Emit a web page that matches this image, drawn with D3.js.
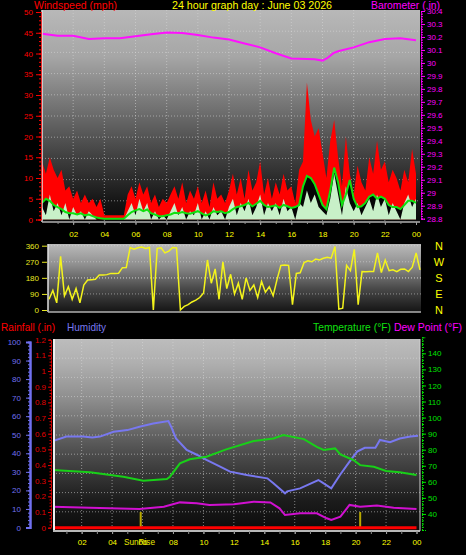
<!DOCTYPE html>
<html><head><meta charset="utf-8">
<script src="https://cdn.jsdelivr.net/npm/d3@7"></script>
<style>body{margin:0;background:#000}svg{display:block;font-family:"Liberation Sans",Arial,sans-serif}</style>
</head><body><svg id="c" width="466" height="555"></svg>
<script>
// ---------- DATA ----------
const hourTicks = [2,4,6,8,10,12,14,16,18,20,22,24];
const hourLabels = ["02","04","06","08","10","12","14","16","18","20","22","00"];
const windStepHours = 0.25;
const windGust = [14,11,15,12, 10,12,7,8, 5,7,4,6, 4,5,3,5, 1,1,1,1, 1,1,6,8,
  5,9,6,8, 4,6,3,5, 4,6,8,5, 9,4,7,5, 8,4,7,3, 9,5,6,4,
  7,11,6,10, 5,12,7,9, 14,6,10,5, 9,6,11,7, 8,4,12,14, 33,24,20,22,
  16,10,19,24, 15,8,20,11, 6,13,9,7, 15,11,19,12, 14,9,12,10, 7,12,9,17, 11];
const windAvg = [4,5,4.5,3.5, 3,2.5,1.8,1.5, 1.5,1.2,1.5,1, 1.2,0.8,0.5,0.3, 0.2,0.2,0.2,0.2, 0.2,0.2,1,1.8,
  2.2,2.5,2,2.4, 1.5,1.2,0.8,0.8, 1,1.2,1.6,1.5, 1.8,1.5,1.4,1.7, 2,1.5,1,1.3, 2,1.8,2,1.5,
  1.8,2.5,3,3.2, 3.5,4,3.2,3.8, 4.5,3.5,3,3.2, 3.4,2.8,3.5,3.2, 2.8,3,3.5,8, 10.5,10,8.5,6,
  3.5,2.5,7,12.5, 9,3.5,6,9.5, 5,3,3.2,4, 5.5,6,5,5.5, 5,3.5,3,3, 2.5,3.5,4.5,4.5, 4];
const windSpeed = [3,1,6,2, 4,1,4,0, 3,1,2,0, 2,1,0,0, 0,0,0,0, 0,0,2,4,
  1,5,2,4, 0,2,0,1, 0,2,4,1, 3,0,2,1, 4,0,2,0, 3,1,2,0,
  3,5,1,4, 2,5,1,3, 6,1,4,2, 4,1,5,2, 3,0,4,3, 7,4,6,3,
  2,1,5,11, 6,1,8,4, 2,4,1,3, 5,2,6,3, 5,1,4,2, 0,4,6,3, 5];
const baroHours = [0,1,2,3,4,5,6,7,8,9,10,11,12,13,14,15,16,17,17.5,18,18.3,18.7,19,20,21,22,23,24];
const baroValues = [30.225,30.21,30.21,30.185,30.19,30.19,30.205,30.22,30.235,30.23,30.215,30.195,30.18,30.15,30.12,30.075,30.035,30.03,30.028,30.018,30.036,30.075,30.09,30.12,30.16,30.185,30.19,30.175];
const windDir = [60,110,40,300, 80,130,60,120, 40,140,168,170, 172,196,196,198, 205,205,206,237, 238,350,340,348,
  352,345,350,0, 345,348,320,330, 350,348,0,20, 30,45,55,70, 95,280,150,230, 60,270,120,200,
  90,150,60,180, 110,140,70,160, 100,130,80,170, 250,252,250,30, 205,208,265,275, 270,285,280,290,
  295,290,355,5, 10,250,220,340, 30,215,214,215, 215,320,210,280, 220,225,215,228, 230,215,240,320, 225];
const humHours = [0.1,1,2.1,2.7,3.2,4.1,5,5.8,6.7,7.7,7.9,8.2,8.9,9.6,10.2,11.1,11.75,12.85,14.2,14.6,15.36,15.5,16.35,17.55,17.8,18.4,18.97,19.6,20.1,20.6,21.3,21.6,22.26,22.9,23.6,24.1];
const humValues = [46.6,49,49,48.5,49,51.6,52.5,54.3,56.1,57.4,54,48,41.8,39.1,36.4,32.8,30.1,28.3,26.5,23.8,18.4,19.5,21.1,25.6,24.3,21.1,28.3,35.5,40.9,43,43,47.2,46,48,49,49.5];
const tempHours = [0.1,2.55,4.74,6.05,7.6,7.8,8.46,9.1,10.2,11.5,13.3,14.6,15.25,16.6,17.45,17.9,18.65,19.0,19.85,20.3,21.2,22.0,22.9,24.0];
const tempValues = [67.3,65.9,63.2,60.7,61.7,63.2,71.5,74,75.6,80.2,85.4,87,89.1,86.6,81.8,79.8,80.8,77.1,73.6,70.4,69.4,66.7,65.9,64.2];
const dewHours = [0.1,2.55,5.8,7.4,8.46,9.56,10.4,12,13.3,14.4,15.0,15.36,16.35,17.45,18.1,18.4,19,19.6,20.3,21.4,22.5,24];
const dewValues = [44.5,43.9,43.1,44.5,47.2,46.6,45.6,46,47.6,47.2,43.5,39.3,40.4,40.4,37.3,36.2,38.3,45.6,44.5,45.2,43.9,43.1];
const rainHours = [0,24];
const rainValues = [0,0];
const sunHours = [5.88,20.3];
const compass = ["N","W","S","E","N"];
const dirTicks = [0,90,180,270,360];

// ---------- SETUP ----------
const svg = d3.select("#c");
const defs = svg.append("defs");
function grad(id, stops){
  const g = defs.append("linearGradient").attr("id",id).attr("x1",0).attr("y1",0).attr("x2",0).attr("y2",1);
  stops.forEach(s=>g.append("stop").attr("offset",s[0]).attr("stop-color",s[1]));
}
grad("gTop",[[0,"#b8b8b8"],[0.22,"#a6a6a6"],[0.48,"#6e6e6e"],[0.72,"#3a3a3a"],[0.9,"#161616"],[1,"#0a0a0a"]]);
grad("gMid",[[0,"#bababa"],[0.3,"#909090"],[0.65,"#4a4a4a"],[1,"#141414"]]);
grad("gBot",[[0,"#bcbcbc"],[0.12,"#b0b0b0"],[0.32,"#8c8c8c"],[0.58,"#505050"],[0.84,"#1c1c1c"],[1,"#0a0a0a"]]);
function clip(id,x,y,w,h){defs.append("clipPath").attr("id",id).append("rect").attr("x",x).attr("y",y).attr("width",w).attr("height",h);}

function panel(x0,y0,x1,y1,fill,clipId){
  svg.append("rect").attr("x",x0).attr("y",y0).attr("width",x1-x0).attr("height",y1-y0).attr("fill",`url(#${fill})`);
  clip(clipId,x0,y0,x1-x0,y1-y0);
}
function hgrid(x0,x1,ys){
  svg.append("g").selectAll("line").data(ys).join("line")
    .attr("x1",x0).attr("x2",x1).attr("y1",d=>d).attr("y2",d=>d)
    .attr("stroke","#d8d8d8").attr("stroke-opacity",0.55).attr("stroke-dasharray","1,2");
}
function vgrid(y0,y1,xs){
  svg.append("g").selectAll("line").data(xs).join("line")
    .attr("y1",y0).attr("y2",y1).attr("x1",d=>d).attr("x2",d=>d)
    .attr("stroke","#d8d8d8").attr("stroke-opacity",0.55).attr("stroke-dasharray","1,2");
}
function text(x,y,s,color,size,anchor,len){
  const t = svg.append("text").attr("x",x).attr("y",y).text(s).attr("fill",color)
    .attr("font-size",size).attr("text-anchor",anchor||"start");
  if(len) t.attr("textLength",len).attr("lengthAdjust","spacingAndGlyphs");
  return t;
}
function styleAxis(g,color,dash,width){
  g.select(".domain").attr("stroke",color).attr("stroke-dasharray",dash||null).attr("stroke-width",width||1);
  g.selectAll(".tick line").attr("stroke",color);
  g.selectAll(".tick text").attr("fill",color).attr("font-size",8).attr("font-family","Liberation Sans, Arial, sans-serif");
}

// ---------- TOP CHART ----------
const TX0=42, TX1=420, TY0=10, TY1=222;
const xTop = d3.scaleLinear([0,24],[42,416]);
const windY = d3.scaleLinear([0,50],[219.5,12]);
const baroY = d3.scaleLinear([28.8,30.4],[218.7,11]);
panel(TX0,TY0,TX1,TY1,"gTop","cTop");
hgrid(TX0,TX1,d3.range(1,10).map(k=>TY0+k*(TY1-TY0)/10));
vgrid(TY0,TY1,hourTicks.slice(0,-1).map(xTop));
const windTimes = windGust.map((_,i)=>i*windStepHours);
const gTop = svg.append("g").attr("clip-path","url(#cTop)");
gTop.append("path").datum(windGust)
  .attr("d",d3.area().x((d,i)=>xTop(windTimes[i])).y0(windY(0)).y1(d=>windY(d)))
  .attr("fill","#ff0000");
gTop.append("path").datum(windAvg)
  .attr("d",d3.area().x((d,i)=>xTop(windTimes[i])).y0(windY(0)).y1(d=>windY(d)))
  .attr("fill","#050505");
gTop.append("path").datum(windSpeed)
  .attr("d",d3.area().x((d,i)=>xTop(windTimes[i])).y0(windY(0)).y1(d=>windY(d)))
  .attr("fill","#c8f0c8");
gTop.append("path").datum(windAvg)
  .attr("d",d3.line().x((d,i)=>xTop(windTimes[i])).y(d=>windY(d)))
  .attr("fill","none").attr("stroke","#10e010").attr("stroke-width",2);
gTop.append("path").datum(baroValues)
  .attr("d",d3.line().x((d,i)=>xTop(baroHours[i])).y(d=>baroY(d)))
  .attr("fill","none").attr("stroke","#ff10ff").attr("stroke-width",2);
// borders
svg.append("line").attr("x1",TX0).attr("x2",TX0).attr("y1",TY0).attr("y2",TY1).attr("stroke","#e0e0e0").attr("stroke-width",1.5);
svg.append("line").attr("x1",TX0).attr("x2",TX1).attr("y1",TY1).attr("y2",TY1).attr("stroke","#b0b0b0").attr("stroke-width",1.5);
// axes
let a;
a = svg.append("g").attr("transform","translate(41,0)").call(d3.axisLeft(windY).tickValues(d3.range(0,51,1)).tickSize(2).tickFormat(""));
styleAxis(a,"#ff0000","1,1");
a = svg.append("g").attr("transform","translate(41,0)").call(d3.axisLeft(windY).tickValues(d3.range(0,51,5)).tickSize(5).tickPadding(3));
styleAxis(a,"#ff0000","1,1");
a = svg.append("g").attr("transform","translate(421,0)").call(d3.axisRight(baroY).tickValues(d3.range(0,81,1).map(i=>28.8+i*0.02)).tickSize(2).tickFormat(""));
styleAxis(a,"#ff00ff","1,1");
a = svg.append("g").attr("transform","translate(421,0)").call(d3.axisRight(baroY).tickValues(d3.range(0,17).map(i=>+(28.8+i*0.1).toFixed(1))).tickSize(4).tickPadding(2).tickFormat(d=>String(+d.toFixed(1))));
styleAxis(a,"#ff00ff","1,1");
a = svg.append("g").attr("transform",`translate(0,${TY1})`).call(d3.axisBottom(xTop).tickValues(d3.range(1,25)).tickSize(2).tickFormat(""));
styleAxis(a,"#909090"); a.select(".domain").remove();
a = svg.append("g").attr("transform",`translate(0,${TY1})`).call(d3.axisBottom(xTop).tickValues(hourTicks).tickSize(3).tickPadding(6.5).tickFormat((d,i)=>hourLabels[i]));
styleAxis(a,"#a0a0a0"); a.select(".domain").remove(); a.selectAll(".tick text").attr("fill","#ffff00");
text(34,8.5,"Windspeed (mph)","#ff0000",11,"start",83);
text(172,8.5,"24 hour graph day : June 03 2026","#ffff00",11,"start",160);
text(371,8.5,"Barometer (.in)","#ff00ff",11,"start",69);

// ---------- MIDDLE CHART ----------
const MX0=48, MX1=421, MY0=244, MY1=312;
const xMid = d3.scaleLinear([0,24],[49,420]);
const dirY = d3.scaleLinear([0,360],[310,245.7]);
panel(MX0,MY0,MX1,MY1,"gMid","cMid");
hgrid(MX0,MX1,[90,180,270,360].map(dirY).concat([MY0+34]));
svg.append("line").attr("x1",MX0).attr("x2",MX0).attr("y1",MY0).attr("y2",MY1).attr("stroke","#e0e0e0").attr("stroke-width",1.5);
svg.append("line").attr("x1",MX0).attr("x2",MX1).attr("y1",MY1).attr("y2",MY1).attr("stroke","#b0b0b0").attr("stroke-width",1.5);
svg.append("g").attr("clip-path","url(#cMid)").append("path").datum(windDir)
  .attr("d",d3.line().x((d,i)=>xMid(windTimes[i])).y(d=>dirY(d)))
  .attr("fill","none").attr("stroke","#f4f41c").attr("stroke-width",1.5);
a = svg.append("g").attr("transform","translate(47,0)").call(d3.axisLeft(dirY).tickValues(dirTicks).tickSize(5).tickPadding(3));
styleAxis(a,"#e8e820"); a.select(".domain").remove();
compass.forEach((c,i)=>text(439,dirY(360-i*90)+4,c,"#ffff00",11,"middle"));

// ---------- BOTTOM CHART ----------
const BX0=53, BX1=420, BY0=339, BY1=531;
const xBot = d3.scaleLinear([0,24],[51.2,416.5]);
const humY = d3.scaleLinear([0,100],[527.5,342]);
const rainY = d3.scaleLinear([0,1.2],[527.7,339.7]);
const tempY = d3.scaleLinear([30,150],[530,337.3]);
panel(BX0,BY0,BX1,BY1,"gBot","cBot");
hgrid(BX0,BX1,d3.range(1,10).map(k=>BY0+k*(BY1-BY0)/10));
vgrid(BY0,BY1,hourTicks.slice(0,-1).map(xBot));
const gBot = svg.append("g").attr("clip-path","url(#cBot)");
function series(hours,vals,y,color,w){
  gBot.append("path").datum(vals).attr("d",d3.line().x((d,i)=>xBot(hours[i])).y(d=>y(d)))
    .attr("fill","none").attr("stroke",color).attr("stroke-width",w);
}
series(humHours,humValues,humY,"#7878f0",2);
series(tempHours,tempValues,tempY,"#18d018",2);
series(dewHours,dewValues,tempY,"#d010d0",2);
gBot.selectAll(".sun").data(sunHours).join("line").attr("class","sun")
  .attr("x1",d=>xBot(d)).attr("x2",d=>xBot(d)).attr("y1",512).attr("y2",528)
  .attr("stroke","#b8a800").attr("stroke-width",2);
series(rainHours,rainValues,rainY,"#ff0000",3);
svg.append("line").attr("x1",BX0+1).attr("x2",BX0+1).attr("y1",BY0).attr("y2",BY1).attr("stroke","#f0f0f0").attr("stroke-width",2);
svg.append("line").attr("x1",BX0).attr("x2",BX1).attr("y1",BY1).attr("y2",BY1).attr("stroke","#b8b8b8").attr("stroke-width",2);
svg.append("line").attr("x1",BX1).attr("x2",BX1).attr("y1",BY0).attr("y2",BY1).attr("stroke","#d0d0d0").attr("stroke-width",1);
// axes
a = svg.append("g").attr("transform","translate(30,0)").call(d3.axisLeft(humY).tickValues(d3.range(0,101,2)).tickSize(2).tickFormat(""));
styleAxis(a,"#7070f0",null,2);
a = svg.append("g").attr("transform","translate(30,0)").call(d3.axisLeft(humY).tickValues(d3.range(0,101,10)).tickSize(4).tickPadding(5));
styleAxis(a,"#7070f0",null,2);
a = svg.append("g").attr("transform","translate(51,0)").call(d3.axisLeft(rainY).tickValues(d3.range(0,61).map(i=>i*0.02)).tickSize(1.5).tickFormat(""));
styleAxis(a,"#e00000","2,2");
a = svg.append("g").attr("transform","translate(51,0)").call(d3.axisLeft(rainY).tickValues(d3.range(0,13).map(i=>+(i*0.1).toFixed(1))).tickSize(3).tickPadding(2).tickFormat(d=>String(+d.toFixed(1))));
styleAxis(a,"#e00000","2,2");
a = svg.append("g").attr("transform","translate(422,0)").call(d3.axisRight(tempY).tickValues(d3.range(30,151,2)).tickSize(2).tickFormat(""));
styleAxis(a,"#00e000","1,1");
a = svg.append("g").attr("transform","translate(422,0)").call(d3.axisRight(tempY).tickValues(d3.range(40,141,10)).tickSize(4).tickPadding(2));
styleAxis(a,"#00e000","1,1");
a = svg.append("g").attr("transform",`translate(0,${BY1})`).call(d3.axisBottom(xBot).tickValues(d3.range(1,25)).tickSize(3).tickFormat(""));
styleAxis(a,"#909090"); a.select(".domain").remove();
a = svg.append("g").attr("transform",`translate(0,${BY1})`).call(d3.axisBottom(xBot).tickValues(hourTicks).tickSize(3).tickPadding(5.5).tickFormat((d,i)=>hourLabels[i]));
styleAxis(a,"#a0a0a0"); a.select(".domain").remove(); a.selectAll(".tick text").attr("fill","#ffff00");
text(124,545,"SunRise","#e8e800",9.5,"start",31);
text(1,330.5,"Rainfall (.in)","#ff0000",11,"start",54);
text(67,330.5,"Humidity","#7878f0",11,"start",39);
text(313,330.5,"Temperature (°F)","#10e010",11,"start",78);
text(394,330.5,"Dew Point (°F)","#ff00ff",11,"start",68);
</script></body></html>
